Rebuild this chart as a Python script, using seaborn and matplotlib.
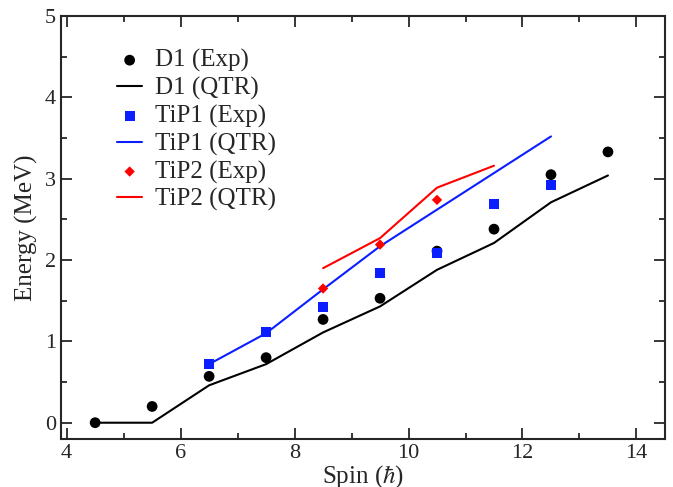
import numpy as np
import pandas as pd
import seaborn as sns
import matplotlib.pyplot as plt
from matplotlib.ticker import MultipleLocator

# spins and energies
spin_d1 = [4.5, 5.5, 6.5, 7.5, 8.5, 9.5, 10.5, 11.5, 12.5, 13.5]
d1_exp = [0.0, 0.20, 0.57, 0.80, 1.27, 1.53, 2.11, 2.38, 3.05, 3.33]
d1_qtr = [0.0, 0.0, 0.46, 0.72, 1.11, 1.43, 1.88, 2.21, 2.71, 3.04]

spin_tip1 = [6.5, 7.5, 8.5, 9.5, 10.5, 11.5, 12.5]
tip1_exp = [0.72, 1.12, 1.42, 1.84, 2.09, 2.69, 2.92]
tip1_qtr = [0.72, 1.10, 1.64, 2.17, 2.62, 3.07, 3.52]

spin_tip2_exp = [8.5, 9.5, 10.5]
tip2_exp = [1.65, 2.19, 2.74]
spin_tip2_qtr = [8.5, 9.5, 10.5, 11.5]
tip2_qtr = [1.90, 2.27, 2.89, 3.16]

sns.set_style("ticks")
plt.rcParams['font.family'] = ['Liberation Serif', 'DejaVu Serif']
plt.rcParams['mathtext.fontset'] = 'stix'

fig, ax = plt.subplots(figsize=(6.73, 4.87), dpi=100)
fig.subplots_adjust(left=0.0906, right=0.988, top=0.967, bottom=0.0986)

sns.scatterplot(x=spin_d1, y=d1_exp, ax=ax, color='black', marker='o', s=60,
                edgecolor='none', label='D1 (Exp)', zorder=3)
sns.lineplot(x=spin_d1, y=d1_qtr, ax=ax, color='black', lw=1.5, label='D1 (QTR)')
sns.scatterplot(x=spin_tip1, y=tip1_exp, ax=ax, color='#0a1eff', marker='s', s=50,
                edgecolor='none', label='TiP1 (Exp)', zorder=3)
sns.lineplot(x=spin_tip1, y=tip1_qtr, ax=ax, color='#0a1eff', lw=1.5, label='TiP1 (QTR)')
sns.scatterplot(x=spin_tip2_exp, y=tip2_exp, ax=ax, color='#ff0000', marker='D', s=28,
                edgecolor='none', label='TiP2 (Exp)', zorder=3)
sns.lineplot(x=spin_tip2_qtr, y=tip2_qtr, ax=ax, color='#ff0000', lw=1.5, label='TiP2 (QTR)')

ax.set_xlim(3.9, 14.5)
ax.set_ylim(-0.2, 5)
ax.xaxis.set_major_locator(MultipleLocator(2))
ax.xaxis.set_minor_locator(MultipleLocator(1))
ax.yaxis.set_major_locator(MultipleLocator(1))
ax.yaxis.set_minor_locator(MultipleLocator(0.5))
ax.tick_params(which='both', direction='in', top=True, right=True, width=1.3, labelsize=16)
ax.tick_params(which='major', length=8)
ax.tick_params(which='minor', length=4)
for sp in ax.spines.values():
    sp.set_linewidth(1.5)

ax.set_xlabel(r'Spin ($\hbar$)', fontsize=18, labelpad=0)
ax.set_ylabel('Energy (MeV)', fontsize=18, labelpad=5)

leg = ax.legend(loc='upper left', bbox_to_anchor=(0.093, 0.922), frameon=False,
                fontsize=18, handlelength=1.0, handletextpad=0.5, labelspacing=0.19,
                borderaxespad=0, borderpad=0)

plt.savefig('out.png', dpi=100)
